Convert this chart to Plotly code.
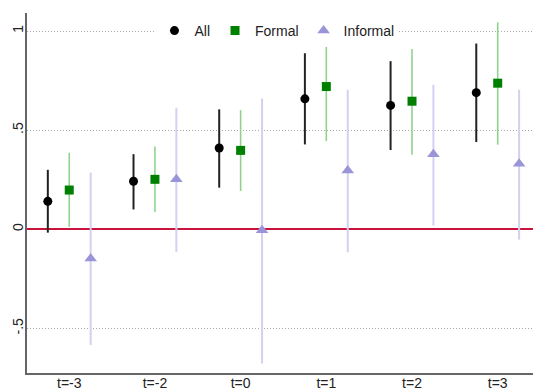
import plotly.graph_objects as go

# Event-time categories
periods = ["t=-3", "t=-2", "t=0", "t=1", "t=2", "t=3"]

# Point estimates and 95% confidence bounds per sample
all_est = [0.141, 0.242, 0.410, 0.658, 0.625, 0.689]
all_lo = [-0.017, 0.100, 0.210, 0.428, 0.400, 0.440]
all_hi = [0.300, 0.379, 0.605, 0.888, 0.848, 0.937]

formal_est = [0.198, 0.252, 0.398, 0.720, 0.646, 0.737]
formal_lo = [0.012, 0.087, 0.193, 0.445, 0.376, 0.427]
formal_hi = [0.386, 0.418, 0.601, 0.930, 0.910, 1.044]

informal_est = [-0.148, 0.252, -0.005, 0.296, 0.378, 0.331]
informal_lo = [-0.584, -0.114, -0.677, -0.116, 0.019, -0.052]
informal_hi = [0.286, 0.613, 0.660, 0.704, 0.729, 0.704]

ytick_vals = [-0.5, 0, 0.5, 1]
ytick_text = ["-.5", "0", ".5", "1"]

FONT = "Liberation Sans, Arial, sans-serif"
base = list(range(1, len(periods) + 1))

series = [
    ("All", all_est, all_lo, all_hi, -0.25, "black", "#222222", "circle", 9, 2.0),
    ("Formal", formal_est, formal_lo, formal_hi, 0.0, "#008000", "#8fd38f", "square", 9, 1.6),
    ("Informal", informal_est, informal_lo, informal_hi, 0.25, "#9a94d8", "#d3d0f0", "triangle-up", 11, 2.0),
]

fig = go.Figure()
for name, est, lo, hi, off, mcol, ecol, sym, size, ew in series:
    fig.add_trace(go.Scatter(
        x=[b + off for b in base],
        y=est,
        mode="markers",
        name=name,
        marker=dict(symbol=sym, size=size, color=mcol, line=dict(width=0)),
        error_y=dict(
            type="data",
            symmetric=False,
            array=[h - e for h, e in zip(hi, est)],
            arrayminus=[e - l for e, l in zip(est, lo)],
            color=ecol,
            thickness=ew,
            width=0,
        ),
    ))

fig.update_layout(
    width=533,
    height=391,
    margin=dict(l=27, r=0, t=13, b=18),
    paper_bgcolor="white",
    plot_bgcolor="white",
    font=dict(family=FONT, size=14, color="#222222"),
    showlegend=True,
    legend=dict(
        orientation="h",
        x=0.494,
        xanchor="center",
        y=0.950,
        yanchor="middle",
        bgcolor="white",
        font=dict(family=FONT, size=14, color="#222222"),
        itemwidth=30,
        tracegroupgap=0,
    ),
    xaxis=dict(
        range=[0.507, 6.412],
        tickvals=base,
        ticktext=periods,
        showgrid=False,
        zeroline=False,
        showline=True,
        linecolor="#666666",
        linewidth=1.5,
        ticks="",
        ticklabelstandoff=-4,
        tickfont=dict(family=FONT, size=14, color="#222222"),
        automargin=False,
    ),
    yaxis=dict(
        range=[-0.725, 1.091],
        tickvals=ytick_vals,
        ticktext=ytick_text,
        tickangle=-90,
        showgrid=True,
        gridcolor="#aaaaaa",
        griddash="1px,2px",
        gridwidth=1,
        zeroline=True,
        zerolinecolor="#c8143c",
        zerolinewidth=1.5,
        showline=True,
        linecolor="#666666",
        linewidth=1.5,
        ticks="",
        ticklabelstandoff=-3,
        tickfont=dict(family=FONT, size=14, color="#222222"),
        automargin=False,
    ),
)

fig.write_html("out.html")
